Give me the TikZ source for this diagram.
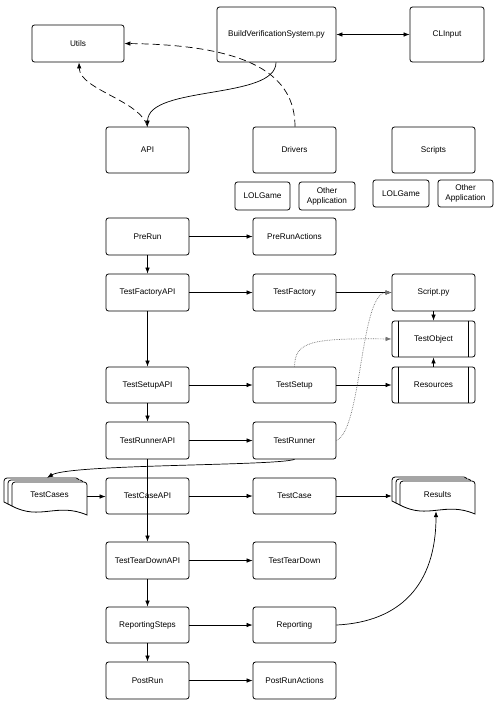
\documentclass[tikz,border=0pt]{standalone}
\usepackage{fontspec}
\setmainfont{Liberation Sans}
\usetikzlibrary{arrows.meta}
\begin{document}
\begin{tikzpicture}[x=1pt,y=-1pt,
  box/.style={draw=black, line width=0.8pt, rounded corners=2.5pt, fill=white, inner sep=0pt, align=center, font=\fontsize{8.2}{10}\selectfont},
  mbox/.style={box, minimum width=83, minimum height=37},
  sbox/.style={box, minimum width=55, minimum height=28},
  conn/.style={line width=0.7pt, -{Latex[length=6pt,width=4.5pt]}},
  dconn/.style={conn, dash pattern=on 7pt off 4pt},
  pconn/.style={conn, densely dotted, draw=black!55},
  docline/.style={draw=black, line width=0.8pt, fill=white},
  txt/.style={inner sep=0pt, font=\fontsize{8.2}{10}\selectfont}
]
\path[use as bounding box, fill=white] (0,0) rectangle (500,712);

% top row
\node[box, minimum width=92, minimum height=37] (utils) at (78,43.5) {Utils};
\node[box, minimum width=119, minimum height=55] (bvs) at (276.5,34.5) {BuildVerificationSystem.py};
\node[box, minimum width=74, minimum height=55] (cli) at (447,34.5) {CLInput};

\node[mbox, minimum height=46] (api) at (147.5,150) {API};
\node[mbox, minimum height=46] (drivers) at (294.5,150) {Drivers};
\node[mbox, minimum height=46] (scripts) at (433.5,150) {Scripts};

\node[sbox] (lol1) at (262.5,196) {LOLGame};
\node[sbox, minimum width=56] (oth1) at (327,196) {Other\\Application};
\node[sbox, minimum width=56, minimum height=27] (lol2) at (401,193.5) {LOLGame};
\node[sbox, minimum height=27] (oth2) at (465.5,193.5) {Other\\Application};

% flow
\node[mbox] (prerun) at (147.5,236.5) {PreRun};
\node[mbox] (preact) at (294.5,236.5) {PreRunActions};
\node[mbox] (tfapi) at (147.5,292.5) {TestFactoryAPI};
\node[mbox] (tf) at (294.5,292.5) {TestFactory};
\node[mbox] (script) at (433.5,292.5) {Script.py};
\node[mbox, minimum height=36] (tobj) at (433.5,339) {TestObject};
\node[mbox, minimum height=36] (tsapi) at (147.5,385) {TestSetupAPI};
\node[mbox, minimum height=36] (ts) at (294.5,385) {TestSetup};
\node[mbox, minimum height=36] (res) at (433.5,385) {Resources};
\node[mbox] (trapi) at (147.5,440.5) {TestRunnerAPI};
\node[mbox] (tr) at (294.5,440.5) {TestRunner};
\node[mbox, minimum height=36] (tcapi) at (147.5,496) {TestCaseAPI};
\node[mbox, minimum height=36] (tc) at (294.5,496) {TestCase};
\node[mbox] (tdapi) at (147.5,560.5) {TestTearDownAPI};
\node[mbox] (td) at (294.5,560.5) {TestTearDown};
\node[mbox, minimum height=36] (rsteps) at (147.5,625) {ReportingSteps};
\node[mbox, minimum height=36] (rep) at (294.5,625) {Reporting};
\node[mbox] (postrun) at (147.5,680.5) {PostRun};
\node[mbox] (postact) at (294.5,680.5) {PostRunActions};

% subroutine bars
\foreach \n in {tobj,res}{
  \draw[line width=0.8pt] ([xshift=7pt]\n.north west) -- ([xshift=7pt]\n.south west);
  \draw[line width=0.8pt] ([xshift=-7pt]\n.north east) -- ([xshift=-7pt]\n.south east);
}

% multi-document stacks
\newcommand\docpiece[2]{%
  \path[docline] (#1,#2+24) -- (#1,#2+3) arc[start angle=180,end angle=270,radius=3] -- (#1+72,#2) arc[start angle=-90,end angle=0,radius=3] -- (#1+75,#2+33) .. controls (#1+45,#2+20) and (#1+28,#2+39) .. (#1,#2+24) -- cycle;}
\newcommand\docstack[2]{%
  \docpiece{#1}{#2}\docpiece{#1+4}{#2+2}\docpiece{#1+8}{#2+4}}
\docstack{4}{478}
\docstack{392}{477}
\node[inner sep=0pt, minimum width=83, minimum height=37] (tcases) at (45.5,496.5) {};
\node[txt] (tcasesT) at (49.5,495) {TestCases};
\node[inner sep=0pt, minimum width=83, minimum height=37] (results) at (433.5,495.5) {};
\node[txt] (resultsT) at (437.5,494.5) {Results};

% top connectors
\draw[line width=0.7pt, {Latex[length=6pt,width=4.5pt]}-{Latex[length=6pt,width=4.5pt]}] (bvs.east) -- (cli.west);
\draw[conn] ([xshift=-0.5pt]bvs.south) .. controls (276,100) and (148,85) .. (api.north);
\draw[dconn] ([xshift=0.5pt]drivers.north) .. controls (295,75) and (250,45) .. (utils.east);
\draw[dconn] (api.north) .. controls (140,100) and (80,90) .. ([xshift=1pt]utils.south);

% horizontal flow
\draw[conn] (prerun) -- (preact);
\draw[conn] (tfapi) -- (tf);
\draw[conn] (tf) -- (script);
\draw[conn] (tsapi) -- (ts);
\draw[conn] (ts) -- (res);
\draw[conn] (trapi) -- (tr);
\draw[conn] (tcases.east) -- (tcases.east -| tcapi.west);
\draw[conn] (tcapi) -- (tc);
\draw[conn] (tc.east) -- (tc.east -| results.west);
\draw[conn] (tdapi) -- (td);
\draw[conn] (rsteps) -- (rep);
\draw[conn] (postrun) -- (postact);

% vertical flow
\draw[conn] (prerun) -- (tfapi);
\draw[conn] (tfapi) -- (tsapi);
\draw[conn] (tsapi) -- (trapi);
\draw[conn] (trapi) -- (tdapi);
\draw[conn] (tdapi) -- (rsteps);
\draw[conn] (rsteps) -- (postrun);
\draw[conn] (script) -- (tobj);
\draw[conn] (res) -- (tobj);

% other
\draw[conn] (tr.south) .. controls (275,466) and (70,464) .. ([xshift=1.5pt]tcases.north);
\draw[pconn] (tr.east) .. controls (362,430) and (360,293) .. (script.west);
\draw[pconn] (ts.north) .. controls (295,342) and (310,338) .. (tobj.west);
\draw[conn] (rep.east) .. controls (400,622) and (436,585) .. ([xshift=2.5pt,yshift=3pt]results.south);
\end{tikzpicture}
\end{document}
